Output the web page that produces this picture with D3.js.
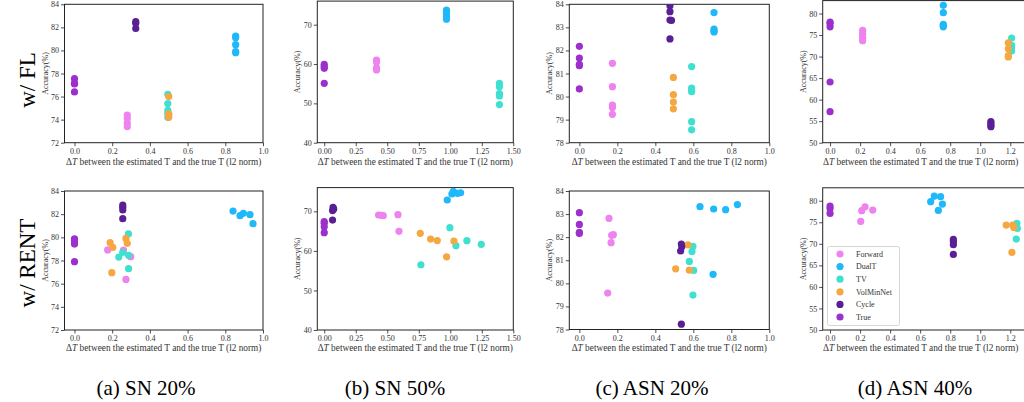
<!DOCTYPE html>
<html>
<head>
<meta charset="utf-8">
<script src="https://cdn.jsdelivr.net/npm/d3@7"></script>
<style>
  html, body { margin: 0; padding: 0; background: #fff; }
  svg { display: block; }
  .tick text { font-family: "Liberation Serif", serif; font-size: 8px; fill: #333; }
  .lbl { font-family: "Liberation Serif", serif; fill: #333; }
  .big { font-family: "Liberation Serif", serif; fill: #000; }
</style>
</head>
<body>
<svg id="chart" width="1024" height="402"></svg>
<script>
// métodos e cores (ordem da legenda)
const methods = ["Forward", "DualT", "TV", "VolMinNet", "Cycle", "True"];
const colors = ["#ee82ee", "#1fb8f8", "#40e0d0", "#f5a742", "#5b1f95", "#9b30cc"];

const rowLabels = ["w/ FL", "w/ RENT"];
const captions = ["(a) SN 20%", "(b) SN 50%", "(c) ASN 20%", "(d) ASN 40%"];

// ticks de cada coluna
const xTicksCol = [[0, 0.2, 0.4, 0.6, 0.8, 1.0], [0, 0.25, 0.5, 0.75, 1.0, 1.25, 1.5],
                   [0, 0.2, 0.4, 0.6, 0.8, 1.0], [0, 0.2, 0.4, 0.6, 0.8, 1.0, 1.2]];
const yTicksCol = [[72, 74, 76, 78, 80, 82, 84], [40, 50, 60, 70],
                   [78, 79, 80, 81, 82, 83, 84], [50, 55, 60, 65, 70, 75, 80]];
const xDomCol = [[-0.053, 1.0], [-0.055, 1.5], [-0.053, 1.0], [-0.049, 1.3]];
const yDomCol = [[72, 84], [40, 76], [78, 84], [50, 83]];

// dados: [delta T, acurácia]
const sn20FL = {
  Forward: [[0.28, 74.4], [0.28, 74.1], [0.28, 73.7], [0.28, 73.4]],
  DualT: [[0.855, 81.25], [0.855, 81.1], [0.855, 80.5], [0.855, 79.9], [0.855, 79.8]],
  TV: [[0.495, 76.2], [0.495, 75.4], [0.495, 74.8], [0.495, 74.5], [0.495, 74.2]],
  VolMinNet: [[0.5, 76.0], [0.5, 74.5], [0.5, 74.4], [0.5, 74.2]],
  Cycle: [[0.325, 82.5], [0.325, 82.35], [0.325, 81.9]],
  True: [[0, 77.55], [0, 77.15], [0, 77.1], [0, 76.4]]
};
const sn50FL = {
  Forward: [[0.415, 61.0], [0.415, 60.5], [0.415, 59.0], [0.415, 58.5]],
  DualT: [[0.97, 73.7], [0.97, 73.1], [0.97, 72.6], [0.97, 72.0], [0.97, 71.4]],
  TV: [[1.39, 55.1], [1.39, 54.2], [1.39, 52.5], [1.39, 51.9], [1.39, 49.7]],
  VolMinNet: [],
  Cycle: [],
  True: [[0, 59.9], [0, 59.4], [0, 58.9], [0, 55.1]]
};
const asn20FL = {
  Forward: [[0.174, 81.44], [0.174, 80.43], [0.174, 79.63], [0.174, 79.53], [0.174, 79.23]],
  DualT: [[0.709, 83.64], [0.709, 82.92], [0.709, 82.84], [0.709, 82.8]],
  TV: [[0.591, 81.3], [0.591, 80.37], [0.591, 80.28], [0.591, 80.21], [0.591, 78.91], [0.591, 78.56]],
  VolMinNet: [[0.495, 80.83], [0.495, 80.08], [0.495, 79.76], [0.495, 79.47]],
  Cycle: [[0.477, 83.94], [0.477, 83.68], [0.477, 83.32], [0.485, 83.3], [0.477, 82.5]],
  True: [[0, 82.18], [0, 81.67], [0, 81.4], [0, 81.34], [0, 80.33]]
};
const asn40FL = {
  Forward: [[0.217, 76.1], [0.217, 75.2], [0.217, 74.4], [0.217, 73.7]],
  DualT: [[0.754, 81.9], [0.754, 80.2], [0.754, 77.5], [0.754, 77.2], [0.754, 76.9]],
  TV: [[1.209, 74.3], [1.209, 72.6], [1.209, 72.0], [1.209, 71.3]],
  VolMinNet: [[1.187, 73.2], [1.187, 71.8], [1.187, 70.2], [1.187, 69.9]],
  Cycle: [[1.071, 54.9], [1.071, 54.5], [1.071, 54.0], [1.071, 53.7]],
  True: [[0, 78.0], [0, 77.7], [0, 76.9], [0, 64.1], [0, 57.2]]
};
const sn20RENT = {
  Forward: [[0.176, 78.91], [0.26, 78.9], [0.298, 78.33], [0.273, 76.37]],
  DualT: [[0.841, 82.27], [0.878, 81.87], [0.896, 82.07], [0.931, 81.96], [0.947, 81.18]],
  TV: [[0.286, 80.29], [0.235, 78.3], [0.256, 78.71], [0.287, 78.45], [0.287, 77.29]],
  VolMinNet: [[0.189, 79.54], [0.203, 79.14], [0.273, 79.91], [0.28, 79.48], [0.198, 76.95]],
  Cycle: [[0.256, 82.79], [0.256, 82.59], [0.256, 82.36], [0.256, 81.61]],
  True: [[0, 79.86], [0, 79.68], [0, 79.42], [0, 77.9]]
};
const sn50RENT = {
  Forward: [[0.431, 69.07], [0.455, 69.0], [0.468, 68.9], [0.585, 69.16], [0.593, 64.95]],
  DualT: [[0.976, 72.86], [1.013, 74.38], [1.024, 75.05], [1.058, 74.55], [1.082, 74.7]],
  TV: [[0.767, 56.5], [0.997, 65.87], [1.045, 61.32], [1.132, 62.59], [1.246, 61.66]],
  VolMinNet: [[0.762, 64.44], [0.844, 63.0], [0.897, 62.6], [0.971, 58.5], [1.029, 62.5]],
  Cycle: [[0.07, 71.0], [0.075, 70.6], [0.066, 70.2], [0.066, 67.8]],
  True: [[0, 67.4], [0, 67.0], [0, 66.1], [0, 64.6]]
};
const asn20RENT = {
  Forward: [[0.156, 82.81], [0.17, 82.08], [0.179, 82.11], [0.167, 81.76], [0.149, 79.58]],
  DualT: [[0.635, 83.32], [0.707, 83.22], [0.77, 83.19], [0.832, 83.41], [0.704, 80.39]],
  TV: [[0.598, 81.6], [0.593, 81.38], [0.579, 80.95], [0.602, 80.56], [0.598, 79.49]],
  VolMinNet: [[0.572, 81.67], [0.507, 80.63], [0.579, 80.57]],
  Cycle: [[0.537, 81.7], [0.539, 81.59], [0.533, 81.4], [0.537, 78.23]],
  True: [[0, 83.06], [0, 82.55], [0, 82.21], [0, 82.16]]
};
const asn40RENT = {
  Forward: [[0.204, 75.2], [0.211, 77.68], [0.233, 78.6], [0.284, 77.83]],
  DualT: [[0.67, 79.77], [0.694, 81.08], [0.736, 80.93], [0.748, 79.23], [0.721, 77.76]],
  TV: [[1.244, 74.74], [1.242, 73.97], [1.247, 73.58], [1.24, 71.1]],
  VolMinNet: [[1.173, 74.35], [1.216, 74.35], [1.224, 73.81], [1.211, 68.01]],
  Cycle: [[0.821, 71.03], [0.821, 70.49], [0.821, 69.79], [0.821, 67.55]],
  True: [[0, 78.76], [0, 78.2], [0, 77.06]]
};

const panelData = [[sn20FL, sn50FL, asn20FL, asn40FL], [sn20RENT, sn50RENT, asn20RENT, asn40RENT]];

// posição das áreas de plotagem (px)
const colX = [[64.5, 263], [317.3, 513.3], [569.3, 769.3], [822.7, 1025.3]];
const rowY = [
  [[142.7, 4.3], [142.7, 1.1], [142.7, 4.3], [142.7, 0.6]],
  [[330, 191], [330, 187.6], [329.5, 191], [330, 187.8]]
];

const svg = d3.select("#chart");

panelData.forEach((row, r) => {
  row.forEach((data, c) => {
    const x = d3.scaleLinear().domain(xDomCol[c]).range(colX[c]);
    const y = d3.scaleLinear().domain(yDomCol[c]).range(rowY[r][c]);
    const g = svg.append("g");
    const clipId = `clip-${r}-${c}`;
    g.append("clipPath").attr("id", clipId)
      .append("rect")
      .attr("x", x.range()[0]).attr("y", y.range()[1])
      .attr("width", x.range()[1] - x.range()[0])
      .attr("height", y.range()[0] - y.range()[1]);

    const xFmt = c === 1 ? d3.format(".2f") : d3.format(".1f");

    const xAxis = g.append("g")
      .attr("transform", `translate(0,${y.range()[0]})`)
      .call(d3.axisBottom(x).tickValues(xTicksCol[c]).tickFormat(xFmt).tickSizeOuter(0).tickSize(3.5).tickPadding(2));
    const yAxis = g.append("g")
      .attr("transform", `translate(${x.range()[0]},0)`)
      .call(d3.axisLeft(y).tickValues(yTicksCol[c]).tickFormat(d3.format("d")).tickSizeOuter(0).tickSize(3.5).tickPadding(2));
    [xAxis, yAxis].forEach(a => {
      a.select(".domain").remove();
      a.attr("font-family", "Liberation Serif").attr("font-size", 8);
      a.selectAll(".tick line").attr("stroke", "#222").attr("stroke-width", 0.8);
    });

    // moldura
    g.append("rect")
      .attr("x", x.range()[0]).attr("y", y.range()[1])
      .attr("width", x.range()[1] - x.range()[0])
      .attr("height", y.range()[0] - y.range()[1])
      .attr("fill", "none").attr("stroke", "#222").attr("stroke-width", 1);

    // pontos
    const pts = g.append("g").attr("clip-path", `url(#${clipId})`);
    methods.forEach((m, i) => {
      pts.selectAll(null)
        .data(data[m])
        .enter()
        .append("circle")
        .attr("cx", d => x(d[0]))
        .attr("cy", d => y(d[1]))
        .attr("r", 3.6)
        .attr("fill", colors[i]);
    });

    // rótulos dos eixos
    const xl = g.append("text").attr("class", "lbl")
      .attr("font-family", "Liberation Serif")
      .attr("x", c === 3 ? 823 : (colX[c][0] + colX[c][1]) / 2)
      .attr("y", r === 0 ? 164.5 : 351)
      .attr("text-anchor", c === 3 ? "start" : "middle")
      .attr("font-size", 9.3);
    xl.append("tspan").text("Δ");
    xl.append("tspan").attr("font-style", "italic").text("T");
    xl.append("tspan").text(" between the estimated T and the true T (l2 norm)");

    const ym = (y.range()[0] + y.range()[1]) / 2;
    g.append("text").attr("class", "lbl")
      .attr("font-family", "Liberation Serif")
      .attr("transform", `translate(${x.range()[0] - 17},${ym}) rotate(-90)`)
      .attr("text-anchor", "middle")
      .attr("font-size", 8)
      .text("Accuracy(%)");
  });
});

// legenda (último painel)
const lg = svg.append("g");
lg.append("rect")
  .attr("x", 827.5).attr("y", 246.5).attr("width", 72).attr("height", 79)
  .attr("rx", 2).attr("fill", "#fff").attr("stroke", "#ccc").attr("stroke-width", 0.8);
methods.forEach((m, i) => {
  const ly = 254 + i * 12.6;
  lg.append("circle").attr("cx", 840).attr("cy", ly).attr("r", 3.6).attr("fill", colors[i]);
  lg.append("text").attr("class", "lbl").attr("font-family", "Liberation Serif")
    .attr("x", 856).attr("y", ly + 2.8)
    .attr("font-size", 8).text(m);
});

// rótulos das linhas
const rowCenters = [80, 263];
rowLabels.forEach((t, i) => {
  svg.append("text").attr("class", "big")
    .attr("font-family", "Liberation Serif")
    .attr("transform", `translate(35,${rowCenters[i]}) rotate(-90)`)
    .attr("text-anchor", "middle")
    .attr("font-size", 23)
    .text(t);
});

// legendas das subfiguras
const capX = [146, 395, 652, 915];
captions.forEach((t, i) => {
  svg.append("text").attr("class", "big")
    .attr("font-family", "Liberation Serif")
    .attr("x", capX[i]).attr("y", 395)
    .attr("text-anchor", "middle")
    .attr("font-size", 21)
    .text(t);
});
</script>
</body>
</html>
